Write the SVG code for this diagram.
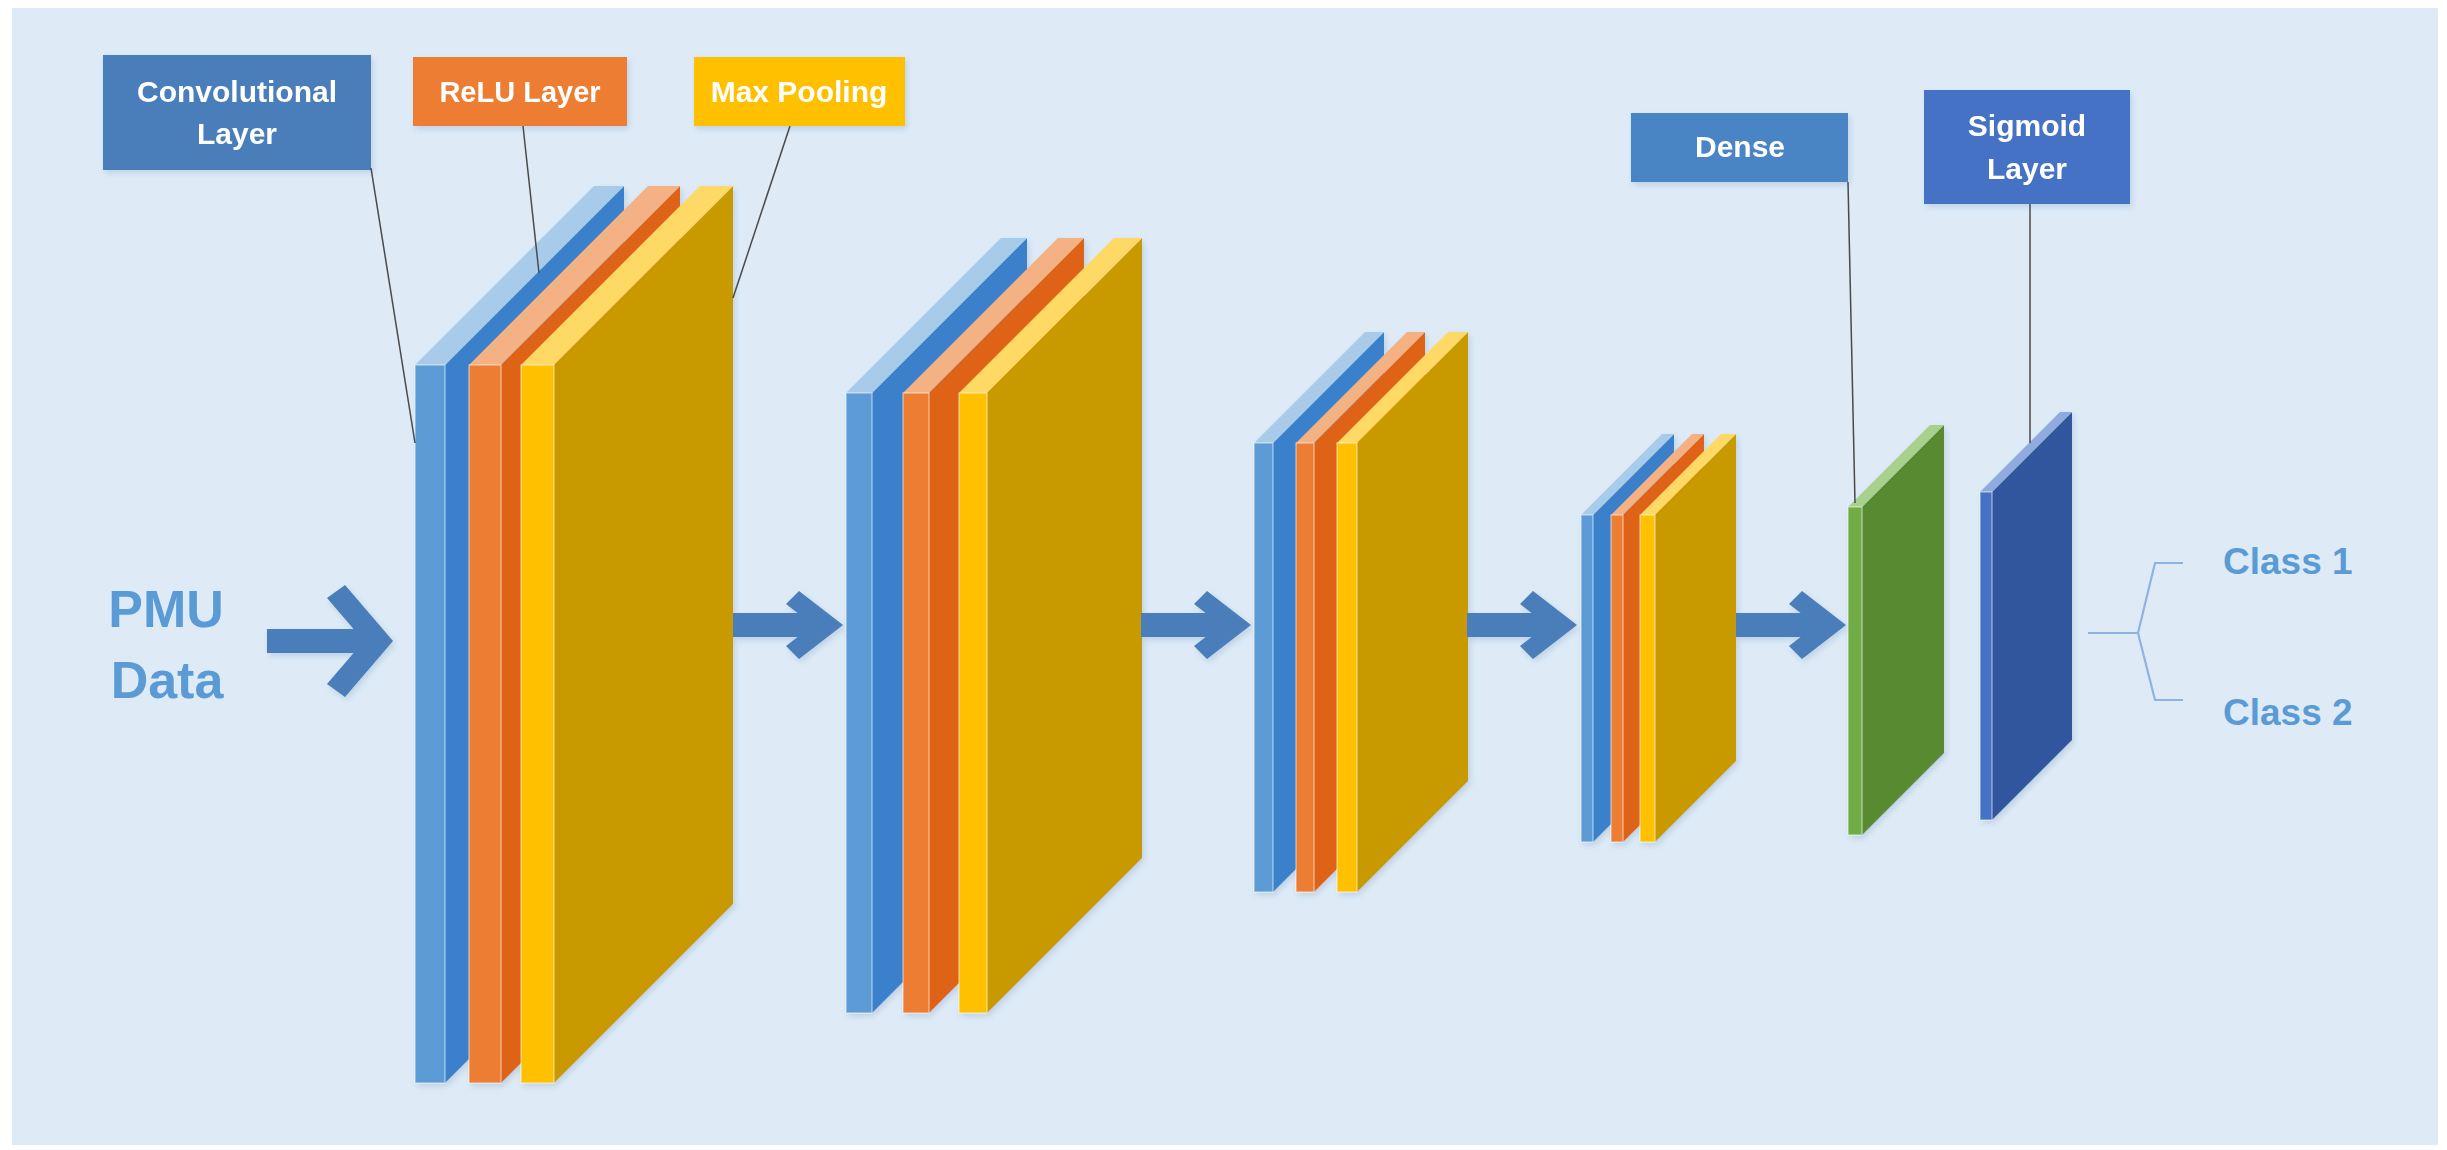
<svg xmlns="http://www.w3.org/2000/svg" width="2447" height="1150" viewBox="0 0 2447 1150">
  <defs>
    <style>
      .lbl { font-family: "Liberation Sans", Arial, sans-serif; font-weight: bold; fill: #ffffff; text-anchor: middle; }
      .big { font-family: "Liberation Sans", Arial, sans-serif; font-weight: bold; fill: #5B9BD5; text-anchor: middle; }
      .cls { font-family: "Liberation Sans", Arial, sans-serif; font-weight: bold; fill: #5B9BD5; }
      .leader { stroke: #4a4a4a; stroke-width: 1.5; fill: none; }
      .bracket { stroke: #8DB3E2; stroke-width: 2.2; fill: none; }
      .arrow { fill: #4A7EBB; }
      .bF { fill: #5B9BD5; } .bS { fill: #3A80CA; } .bT { fill: #A9CBEA; }
      .oF { fill: #ED7D31; } .oS { fill: #DE6419; } .oT { fill: #F4B183; }
      .yF { fill: #FFC000; } .yS { fill: #C99A00; } .yT { fill: #FFD966; }
      .gF { fill: #70AD47; } .gS { fill: #588A33; } .gT { fill: #A9D18E; }
      .sF { fill: #4472C4; } .sS { fill: #30569E; } .sT { fill: #8FAADC; }
      .edge { stroke: #ffffff; stroke-opacity: 0.55; stroke-width: 1.2; }
    </style>
    <filter id="shadow" x="-10%" y="-10%" width="130%" height="130%">
      <feDropShadow dx="2" dy="3" stdDeviation="3" flood-color="#7f9fc0" flood-opacity="0.35"/>
    </filter>
    <path id="arrowShape" d="M-110,-12 L-45.4,-12 L-57,-21 L-44,-34 L0,0 L-44,34 L-57,21 L-45.4,12 L-110,12 Z"/>
  </defs>

  <rect x="0" y="0" width="2447" height="1150" fill="#ffffff"/>
  <rect x="12" y="8" width="2426" height="1137" fill="#DEEBF7"/>

  <!-- Label boxes -->
  <g id="label-conv" filter="url(#shadow)">
    <rect x="103" y="55" width="268" height="115" fill="#4A7EBB"/>
    <text class="lbl" x="237" y="102" font-size="30">Convolutional</text>
    <text class="lbl" x="237" y="144" font-size="30">Layer</text>
  </g>
  <g id="label-relu" filter="url(#shadow)">
    <rect x="413" y="57" width="214" height="69" fill="#ED7D31"/>
    <text class="lbl" x="520" y="102" font-size="29">ReLU Layer</text>
  </g>
  <g id="label-maxpool" filter="url(#shadow)">
    <rect x="694" y="57" width="211" height="69" fill="#FFC000"/>
    <text class="lbl" x="799" y="102" font-size="30">Max Pooling</text>
  </g>
  <g id="label-dense" filter="url(#shadow)">
    <rect x="1631" y="113" width="217" height="69" fill="#4A84C4"/>
    <text class="lbl" x="1740" y="157" font-size="30">Dense</text>
  </g>
  <g id="label-sigmoid" filter="url(#shadow)">
    <rect x="1924" y="90" width="206" height="114" fill="#4472C4"/>
    <text class="lbl" x="2027" y="136" font-size="30">Sigmoid</text>
    <text class="lbl" x="2027" y="179" font-size="30">Layer</text>
  </g>

  <!-- Input text -->
  <g id="input-pmu">
    <text class="big" x="166" y="627" font-size="52">PMU</text>
    <text class="big" x="167" y="698" font-size="52">Data</text>
  </g>

  <!-- Block 1 -->
  <g id="block1" filter="url(#shadow)">
    <polygon class="bS" points="445,365 624,186 624,904 445,1083"/>
    <polygon class="bT" points="415,365 445,365 624,186 594,186"/>
    <rect class="bF edge" x="415" y="365" width="30" height="718"/>
    <polygon class="oS" points="501,365 680,186 680,904 501,1083"/>
    <polygon class="oT" points="469,365 501,365 680,186 648,186"/>
    <rect class="oF edge" x="469" y="365" width="32" height="718"/>
    <polygon class="yS" points="554,365 733,186 733,904 554,1083"/>
    <polygon class="yT" points="521,365 554,365 733,186 700,186"/>
    <rect class="yF edge" x="521" y="365" width="33" height="718"/>
  </g>

  <!-- Block 2 -->
  <g id="block2" filter="url(#shadow)">
    <polygon class="bS" points="872,393 1027,238 1027,858 872,1013"/>
    <polygon class="bT" points="846,393 872,393 1027,238 1001,238"/>
    <rect class="bF edge" x="846" y="393" width="26" height="620"/>
    <polygon class="oS" points="929,393 1084,238 1084,858 929,1013"/>
    <polygon class="oT" points="903,393 929,393 1084,238 1058,238"/>
    <rect class="oF edge" x="903" y="393" width="26" height="620"/>
    <polygon class="yS" points="987,393 1142,238 1142,858 987,1013"/>
    <polygon class="yT" points="959,393 987,393 1142,238 1114,238"/>
    <rect class="yF edge" x="959" y="393" width="28" height="620"/>
  </g>

  <!-- Block 3 -->
  <g id="block3" filter="url(#shadow)">
    <polygon class="bS" points="1273,443 1384,332 1384,781 1273,892"/>
    <polygon class="bT" points="1254,443 1273,443 1384,332 1365,332"/>
    <rect class="bF edge" x="1254" y="443" width="19" height="449"/>
    <polygon class="oS" points="1314,443 1425,332 1425,781 1314,892"/>
    <polygon class="oT" points="1296,443 1314,443 1425,332 1407,332"/>
    <rect class="oF edge" x="1296" y="443" width="18" height="449"/>
    <polygon class="yS" points="1357,443 1468,332 1468,781 1357,892"/>
    <polygon class="yT" points="1337,443 1357,443 1468,332 1448,332"/>
    <rect class="yF edge" x="1337" y="443" width="20" height="449"/>
  </g>

  <!-- Block 4 -->
  <g id="block4" filter="url(#shadow)">
    <polygon class="bS" points="1593,515 1674,434 1674,761 1593,842"/>
    <polygon class="bT" points="1581,515 1593,515 1674,434 1662,434"/>
    <rect class="bF edge" x="1581" y="515" width="12" height="327"/>
    <polygon class="oS" points="1623,515 1704,434 1704,761 1623,842"/>
    <polygon class="oT" points="1611,515 1623,515 1704,434 1692,434"/>
    <rect class="oF edge" x="1611" y="515" width="12" height="327"/>
    <polygon class="yS" points="1655,515 1736,434 1736,761 1655,842"/>
    <polygon class="yT" points="1640,515 1655,515 1736,434 1721,434"/>
    <rect class="yF edge" x="1640" y="515" width="15" height="327"/>
  </g>

  <!-- Dense panel -->
  <g id="dense" filter="url(#shadow)">
    <polygon class="gS" points="1862,507 1944,425 1944,753 1862,835"/>
    <polygon class="gT" points="1848,507 1862,507 1944,425 1930,425"/>
    <rect class="gF edge" x="1848" y="507" width="14" height="328"/>
  </g>

  <!-- Sigmoid panel -->
  <g id="sigmoid" filter="url(#shadow)">
    <polygon class="sS" points="1992,492 2072,412 2072,740 1992,820"/>
    <polygon class="sT" points="1980,492 1992,492 2072,412 2060,412"/>
    <rect class="sF edge" x="1980" y="492" width="12" height="328"/>
  </g>

  <!-- Outputs -->
  <g id="outputs">
    <text class="cls" x="2223" y="574" font-size="37">Class 1</text>
    <text class="cls" x="2223" y="725" font-size="37">Class 2</text>
  </g>

  <!-- Connectors -->
  <g id="connectors">
    <polygon class="arrow" filter="url(#shadow)" points="267,629 353.6,629 327,598 345,585 393,641 345,697 327,684 353.6,653 267,653"/>
    <use href="#arrowShape" class="arrow" filter="url(#shadow)" transform="translate(843,625)"/>
    <use href="#arrowShape" class="arrow" filter="url(#shadow)" transform="translate(1251,625)"/>
    <use href="#arrowShape" class="arrow" filter="url(#shadow)" transform="translate(1577,625)"/>
    <use href="#arrowShape" class="arrow" filter="url(#shadow)" transform="translate(1846,625)"/>
    <line class="leader" x1="371" y1="168" x2="415" y2="443"/>
    <line class="leader" x1="523" y1="126" x2="539" y2="273"/>
    <line class="leader" x1="790" y1="126" x2="733" y2="298"/>
    <line class="leader" x1="1848" y1="182" x2="1855" y2="503"/>
    <line class="leader" x1="2030" y1="204" x2="2030" y2="443"/>
    <polyline class="bracket" points="2088,633 2138,633 2155,563 2183,563"/>
    <polyline class="bracket" points="2138,633 2155,700 2183,700"/>
  </g>
</svg>
